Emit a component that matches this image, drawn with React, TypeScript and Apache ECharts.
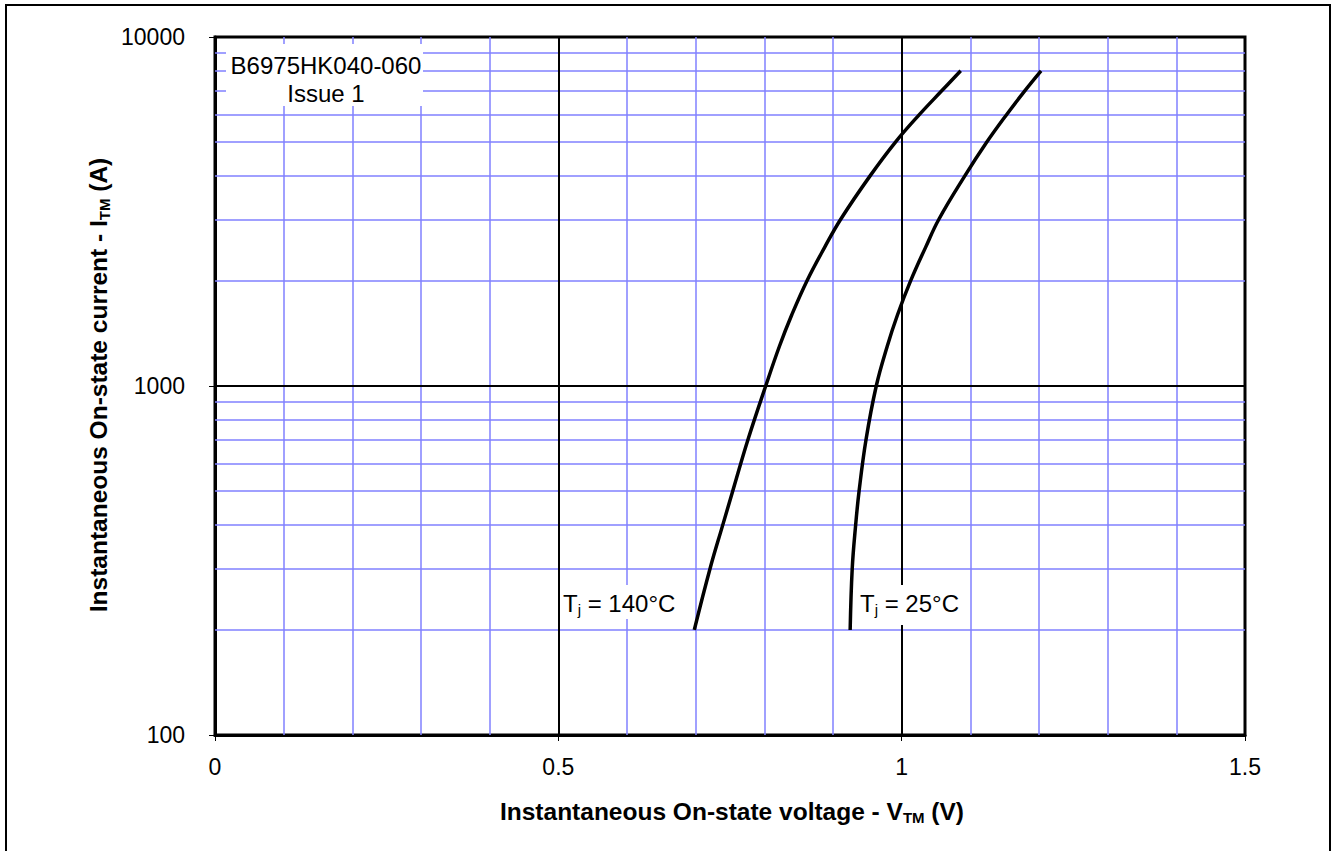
import React, { useEffect, useRef } from "react";
import * as echarts from "echarts";

// On-state characteristic
const currentA = [200, 300, 400, 500, 700, 1000, 1300, 1600, 2000, 2500, 3000, 4000, 5000, 6000, 7000, 8000];
const voltage140 = [0.698, 0.721, 0.7395, 0.754, 0.776, 0.802, 0.822, 0.840, 0.862, 0.888, 0.911, 0.954, 0.991, 1.026, 1.058, 1.086];
const voltage25 = [0.925, 0.928, 0.933, 0.938, 0.948, 0.963, 0.979, 0.994, 1.013, 1.035, 1.054, 1.092, 1.124, 1.153, 1.179, 1.203];

const xMinorGrid = [0.1, 0.2, 0.3, 0.4, 0.6, 0.7, 0.8, 0.9, 1.1, 1.2, 1.3, 1.4];
const xMajorGrid = [0.5, 1.0];
const yMinorGrid = [200, 300, 400, 500, 600, 700, 800, 900, 2000, 3000, 4000, 5000, 6000, 7000, 8000, 9000];
const yMajorGrid = [1000];

const partNumber = "B6975HK040-060";
const issueText = "Issue 1";
const xTitle = ["Instantaneous On-state voltage - V", "TM", " (V)"];
const yTitle = ["Instantaneous On-state current - I", "TM", " (A)"];
const label140 = ["T", "j", " = 140°C"];
const label25 = ["T", "j", " = 25°C"];

const FONT = "'Liberation Sans', Arial, sans-serif";
const BLUE = "#8080ff";

export default function App() {
  const ref = useRef<HTMLDivElement>(null);
  useEffect(() => {
    if (!ref.current) return;
    const chart = echarts.init(ref.current, null, { renderer: "svg" });
    const richBase = (size: number, weight: string) => ({
      a: { fontSize: size, fontWeight: weight, fontFamily: FONT, color: "#000", lineHeight: 27 },
      b: { fontSize: Math.round(size * 0.62), fontWeight: weight, fontFamily: FONT, color: "#000", lineHeight: 15, verticalAlign: "bottom" },
    });
    const sub = (p: string[]) => `{a|${p[0]}}{b|${p[1]}}{a|${p[2]}}`;
    const option: any = {
      animation: false,
      backgroundColor: "#fff",
      grid: {
        left: 215, top: 37, width: 1030, height: 698,
        show: true, borderColor: "#000", borderWidth: 3, backgroundColor: "transparent",
        containLabel: false, outerBoundsMode: "none",
      },
      xAxis: {
        type: "value", min: 0, max: 1.5, interval: 0.5,
        axisLine: { show: true, lineStyle: { color: "#000", width: 3 } },
        axisTick: { show: true, length: 6, lineStyle: { color: "#000", width: 1 } },
        axisLabel: { color: "#000", fontSize: 23, fontFamily: FONT, margin: 20 },
        splitLine: { show: false },
      },
      yAxis: {
        type: "log", logBase: 10, min: 100, max: 10000,
        axisLine: { show: true, lineStyle: { color: "#000", width: 3 } },
        axisTick: { show: true, length: 6, lineStyle: { color: "#000", width: 1 } },
        axisLabel: { color: "#000", fontSize: 23, fontFamily: FONT, margin: 30, formatter: (v: number) => String(Math.round(v)) },
        splitLine: { show: false },
        minorTick: { show: false }, minorSplitLine: { show: false },
      },
      series: [
        {
          name: "Tj = 140°C", type: "line", z: 3, smooth: 0.4, symbol: "none",
          lineStyle: { color: "#000", width: 3.5 },
          data: voltage140.map((v, i) => [v, currentA[i]]),
          markLine: {
            z: 1, silent: true, symbol: ["none", "none"], label: { show: false },
            lineStyle: { color: BLUE, width: 1.5, type: "solid" },
            data: [
              ...xMinorGrid.map((x) => ({ xAxis: x })),
              ...yMinorGrid.map((y) => ({ yAxis: y })),
            ],
          },
        },
        {
          name: "Tj = 25°C", type: "line", z: 3, smooth: 0.4, symbol: "none",
          lineStyle: { color: "#000", width: 3.5 },
          data: voltage25.map((v, i) => [v, currentA[i]]),
          markLine: {
            z: 2, silent: true, symbol: ["none", "none"], label: { show: false },
            lineStyle: { color: "#000", width: 2, type: "solid" },
            data: [
              ...xMajorGrid.map((x) => ({ xAxis: x })),
              ...yMajorGrid.map((y) => ({ yAxis: y })),
            ],
          },
        },
      ],
      graphic: [
        { type: "rect", z: 0, silent: true, shape: { x: 6, y: 5, width: 1324, height: 860 }, style: { fill: "none", stroke: "#000", lineWidth: 2 } },
        { type: "rect", z: 10, shape: { x: 226, y: 44, width: 197, height: 62 }, style: { fill: "#fff" } },
        { type: "text", z: 11, x: 326, y: 65, style: { text: partNumber, font: `24px ${FONT}`, fill: "#000", align: "center", verticalAlign: "middle" } },
        { type: "text", z: 11, x: 326, y: 93, style: { text: issueText, font: `24px ${FONT}`, fill: "#000", align: "center", verticalAlign: "middle" } },
        { type: "rect", z: 10, shape: { x: 560, y: 585, width: 122, height: 34 }, style: { fill: "#fff" } },
        { type: "text", z: 11, x: 563, y: 603, style: { text: sub(label140), rich: richBase(24, "normal"), align: "left", verticalAlign: "middle" } },
        { type: "rect", z: 10, shape: { x: 855, y: 585, width: 113, height: 40 }, style: { fill: "#fff" } },
        { type: "text", z: 11, x: 860, y: 603, style: { text: sub(label25), rich: richBase(24, "normal"), align: "left", verticalAlign: "middle" } },
        { type: "text", z: 11, x: 732, y: 811, style: { text: sub(xTitle), rich: richBase(24.5, "bold"), align: "center", verticalAlign: "middle" } },
        { type: "text", z: 11, x: 98, y: 385, rotation: Math.PI / 2, style: { text: sub(yTitle), rich: richBase(24.5, "bold"), align: "center", verticalAlign: "middle" } },
      ],
    };
    chart.setOption(option);
    return () => chart.dispose();
  }, []);
  return <div ref={ref} style={{ position: "fixed", left: 0, top: 0, width: 1336, height: 851, background: "#fff" }} />;
}
